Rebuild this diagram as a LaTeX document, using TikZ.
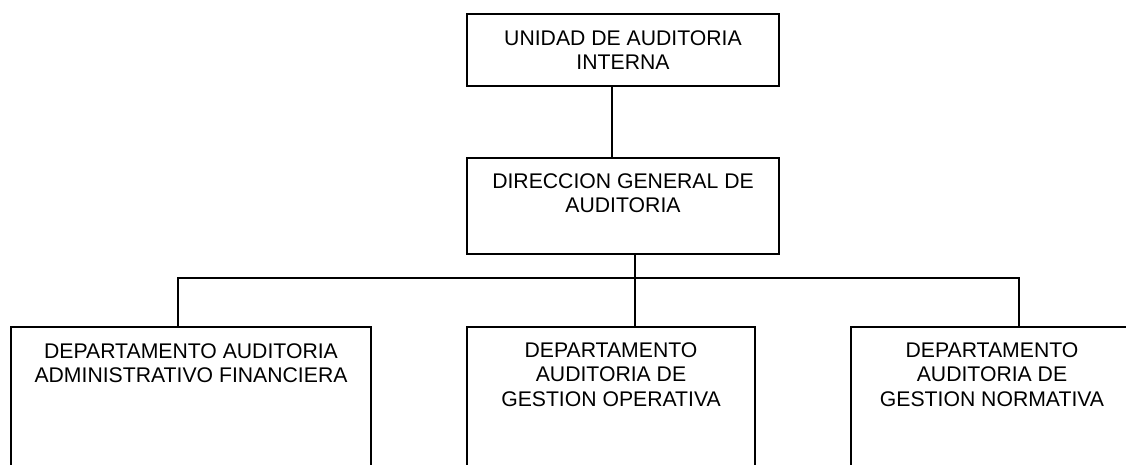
\documentclass[tikz,border=0pt]{standalone}
\usepackage{fontspec}
\setmainfont{Liberation Sans}
\begin{document}
\begin{tikzpicture}[x=1pt,y=-1pt,
  box/.style={draw=black,line width=1.6pt,rectangle,inner sep=0pt,outer sep=0pt,anchor=north west,fill=none},
  txt/.style={inner sep=0pt,align=center,anchor=north,font=\fontsize{21.2}{24.5}\selectfont},
  conn/.style={draw=black,line width=1.6pt}]
\useasboundingbox[fill=white] (0,0) rectangle (1126,465);
\clip (0,0) rectangle (1126,465);
% boxes
\node[box,minimum width=312pt,minimum height=72pt] (t) at (467,14) {};
\node[box,minimum width=312pt,minimum height=96pt] (d) at (467,158) {};
\node[box,minimum width=360pt,minimum height=180pt] (a) at (11,327) {};
\node[box,minimum width=288pt,minimum height=180pt] (b) at (467,327) {};
\node[box,minimum width=282pt,minimum height=180pt] (c) at (851,327) {};
% texts
\node[txt] (tt) at ([yshift=-16pt]t.north) {UNIDAD DE AUDITORIA\\INTERNA};
\node[txt] (dt) at ([yshift=-15pt]d.north) {DIRECCION GENERAL DE\\AUDITORIA};
\node[txt] (at) at ([yshift=-16pt]a.north) {DEPARTAMENTO AUDITORIA\\ADMINISTRATIVO FINANCIERA};
\node[txt] (bt) at ([yshift=-15pt]b.north) {DEPARTAMENTO\\AUDITORIA DE\\GESTION OPERATIVA};
\node[txt] (ct) at ([yshift=-15pt]c.north) {DEPARTAMENTO\\AUDITORIA DE\\GESTION NORMATIVA};
% connectors
\coordinate (j) at ([xshift=12pt,yshift=-24pt]d.south);
\draw[conn] ([xshift=-11pt]t.south) -- ([xshift=-11pt]t.south |- d.north);
\draw[conn] ([xshift=12pt]d.south) -- ([xshift=24pt]b.north);
\draw[conn] ([xshift=-13pt]a.north) |- (j) -| ([xshift=27pt]c.north);
\end{tikzpicture}
\end{document}
